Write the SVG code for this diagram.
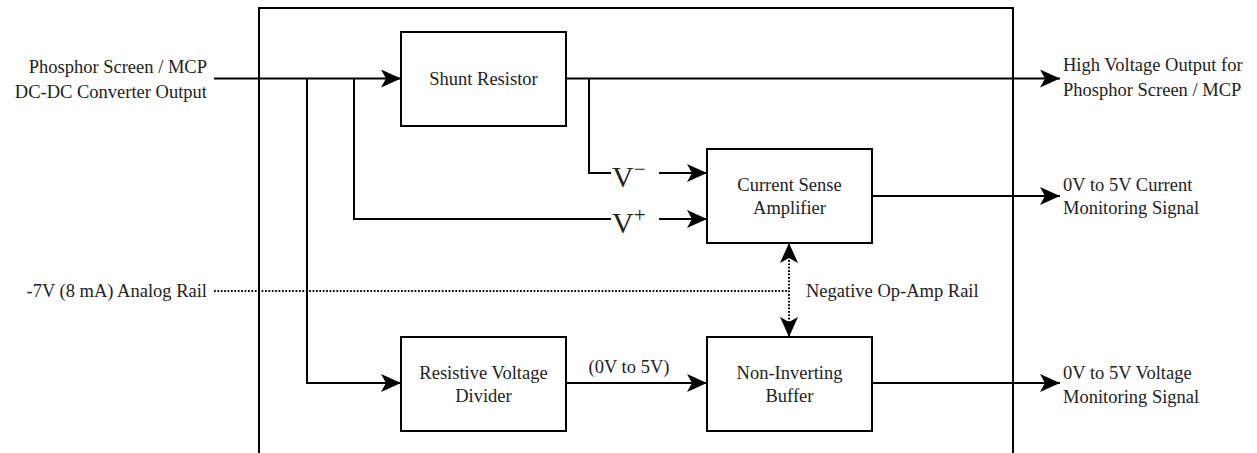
<svg xmlns="http://www.w3.org/2000/svg" width="1257" height="453" viewBox="0 0 1257 453">
<style>
text{font-family:'Liberation Serif','Times New Roman','DejaVu Serif',serif}
.t{font-size:18.5px;fill:#222}
.box{fill:#fff;stroke:#000;stroke-width:2}
.w{fill:none;stroke:#000;stroke-width:2}
.dot{fill:none;stroke:#000;stroke-width:2;stroke-dasharray:1.7 1.7}
.v{font-size:30px;fill:#222}
</style>
<defs>
<marker id="arr" markerUnits="userSpaceOnUse" markerWidth="22" markerHeight="20" refX="20" refY="9" orient="auto">
<path d="M0,0 L20,9 L0,18 L5,9 Z" fill="#000"/>
</marker>
<marker id="arrS" markerUnits="userSpaceOnUse" markerWidth="22" markerHeight="20" refX="0" refY="9" orient="auto">
<path d="M20,0 L0,9 L20,18 L15,9 Z" fill="#000"/>
</marker>
</defs>
<rect x="259" y="8" width="754" height="460" fill="none" stroke="#000" stroke-width="2"/>
<g id="connectors">
<path class="w" d="M214,78.5 H401" marker-end="url(#arr)"/>
<path class="w" d="M307,78.5 V383 H401" marker-end="url(#arr)"/>
<path class="w" d="M354,78.5 V219 H611"/>
<path class="w" d="M659,219 H707" marker-end="url(#arr)"/>
<path class="w" d="M566,78.5 H1060" marker-end="url(#arr)"/>
<path class="w" d="M589,78.5 V173 H611"/>
<path class="w" d="M659,173 H707" marker-end="url(#arr)"/>
<path class="w" d="M872,196 H1060" marker-end="url(#arr)"/>
<path class="w" d="M566,383 H707" marker-end="url(#arr)"/>
<path class="w" d="M872,383 H1060" marker-end="url(#arr)"/>
<path class="dot" d="M214,291 H789"/>
<path class="dot" d="M789,243 V337" marker-start="url(#arrS)" marker-end="url(#arr)"/>
<text class="v" x="612" y="187">V<tspan font-size="21" dy="-11">−</tspan></text>
<text class="v" x="612" y="233">V<tspan font-size="21" dy="-11">+</tspan></text>
<text class="t" x="629" y="367" text-anchor="middle" dominant-baseline="central">(0V to 5V)</text>
<text class="t" x="806" y="291" dominant-baseline="central">Negative Op-Amp Rail</text>
</g>
<g id="in-hv">
<text class="t" x="207" y="67" text-anchor="end" dominant-baseline="central">Phosphor Screen / MCP</text>
<text class="t" x="207" y="92" text-anchor="end" dominant-baseline="central">DC-DC Converter Output</text>
</g>
<g id="in-rail">
<text class="t" x="207" y="291" text-anchor="end" dominant-baseline="central">-7V (8 mA) Analog Rail</text>
</g>
<g id="shunt">
<rect class="box" x="401" y="32" width="165" height="94"/>
<text class="t" x="483.5" y="79" text-anchor="middle" dominant-baseline="central">Shunt Resistor</text>
</g>
<g id="csa">
<rect class="box" x="707" y="149" width="165" height="94"/>
<text class="t" x="789.5" y="185" text-anchor="middle" dominant-baseline="central">Current Sense</text>
<text class="t" x="789.5" y="208" text-anchor="middle" dominant-baseline="central">Amplifier</text>
</g>
<g id="divider">
<rect class="box" x="401" y="337" width="165" height="94"/>
<text class="t" x="483.5" y="373" text-anchor="middle" dominant-baseline="central">Resistive Voltage</text>
<text class="t" x="483.5" y="396" text-anchor="middle" dominant-baseline="central">Divider</text>
</g>
<g id="buffer">
<rect class="box" x="707" y="337" width="165" height="94"/>
<text class="t" x="789.5" y="373" text-anchor="middle" dominant-baseline="central">Non-Inverting</text>
<text class="t" x="789.5" y="396" text-anchor="middle" dominant-baseline="central">Buffer</text>
</g>
<g id="out-hv">
<text class="t" x="1063" y="65" dominant-baseline="central">High Voltage Output for</text>
<text class="t" x="1063" y="90" dominant-baseline="central">Phosphor Screen / MCP</text>
</g>
<g id="out-current">
<text class="t" x="1063" y="185" dominant-baseline="central">0V to 5V Current</text>
<text class="t" x="1063" y="208" dominant-baseline="central">Monitoring Signal</text>
</g>
<g id="out-voltage">
<text class="t" x="1063" y="373" dominant-baseline="central">0V to 5V Voltage</text>
<text class="t" x="1063" y="397" dominant-baseline="central">Monitoring Signal</text>
</g>
</svg>
